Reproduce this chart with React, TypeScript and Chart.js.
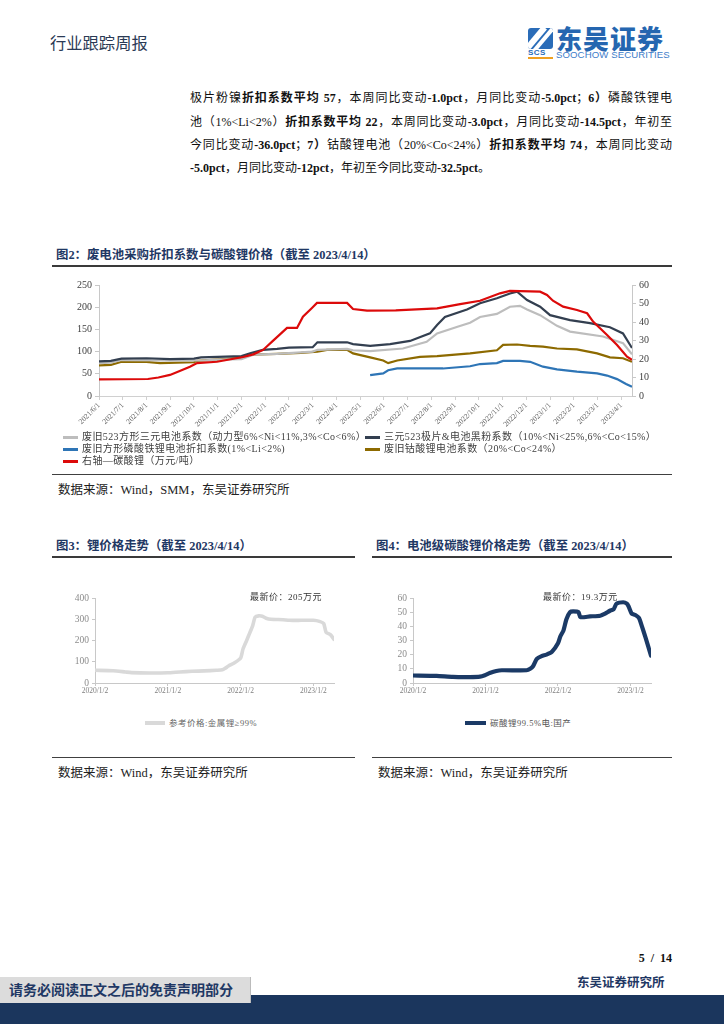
import React, { useEffect, useRef } from 'react';
import { Chart, registerables } from 'chart.js';
Chart.register(...registerables);

const SERIF = '"Liberation Serif", "Noto Sans CJK SC", serif';
const NAVY_TXT = '#1f3864';

// ---------- Figure 2 data (x = months since 2021/6/1) ----------
const fig2XLabels = [
  '2021/6/1', '2021/7/1', '2021/8/1', '2021/9/1', '2021/10/1', '2021/11/1', '2021/12/1',
  '2022/1/1', '2022/2/1', '2022/3/1', '2022/4/1', '2022/5/1', '2022/6/1', '2022/7/1',
  '2022/8/1', '2022/9/1', '2022/10/1', '2022/11/1', '2022/12/1', '2023/1/1', '2023/2/1',
  '2023/3/1', '2023/4/1',
];
const fig2LeftTicks = [0, 50, 100, 150, 200, 250];
const fig2RightTicks = [0, 10, 20, 30, 40, 50, 60];

const grayX = [0, 0.5, 0.95, 3, 4.3, 5, 6, 6.5, 7.5, 9, 9.2, 10.45, 10.7, 11.42, 12.8, 13.8, 14.24, 15.1, 15.63, 16.05, 16.76, 17.31, 17.73, 18.03, 18.58, 19.29, 19.84, 21.23, 22.07, 22.45];
const grayY = [74, 75, 81, 80, 80, 82, 83, 93, 95, 100, 104, 106, 103, 101, 107, 122, 141, 156, 165, 178, 185, 201, 203, 195, 182, 158, 145, 134, 119, 94];

const navyX = [0, 0.5, 0.95, 2, 3, 4, 4.3, 5, 6, 6.4, 6.9, 7.5, 8, 9, 9.2, 10.45, 10.7, 11.42, 12.26, 13.1, 13.94, 14.24, 14.57, 15.5, 16.05, 16.76, 17.31, 17.61, 18.03, 18.58, 19.0, 19.84, 20.68, 21.52, 22.07, 22.45];
const navyY = [78, 79, 84, 85, 83, 84, 87, 88, 90, 97, 104, 106, 109, 110, 121, 121, 117, 113, 117, 124, 141, 160, 178, 195, 209, 220, 231, 235, 216, 201, 182, 171, 164, 155, 141, 108];

const blueX = [11.42, 11.97, 12.18, 12.56, 14.49, 15.63, 16.05, 16.76, 17.02, 17.73, 18.16, 18.7, 19.29, 20.13, 20.98, 21.4, 21.82, 22.2, 22.45];
const blueY = [47, 51, 58, 62, 62, 67, 72, 74, 79, 79, 77, 66, 60, 55, 51, 46, 38, 27, 21];

const oliveX = [0, 0.5, 0.95, 2, 2.57, 4, 4.13, 6, 6.4, 7.5, 8.5, 9.2, 9.6, 10.45, 10.7, 11.42, 11.97, 12.18, 12.56, 13.52, 14.24, 15.63, 16.76, 17.02, 17.61, 18.16, 18.7, 19.29, 20.13, 20.98, 21.52, 22.07, 22.45];
const oliveY = [69, 70, 77, 77, 74, 76, 79, 86, 93, 95, 97, 100, 104, 104, 96, 87, 80, 74, 80, 88, 90, 96, 103, 115, 116, 113, 111, 107, 105, 96, 87, 85, 77];

const redX = [0, 2.06, 2.5, 2.99, 3.4, 3.83, 4.13, 4.97, 6.07, 6.5, 6.91, 7.29, 7.92, 8.34, 8.59, 8.97, 9.18, 10.45, 10.7, 11.29, 12.5, 14.24, 15.21, 16.05, 16.89, 17.31, 18.58, 18.87, 19.12, 19.55, 20.13, 20.56, 20.81, 21.4, 21.82, 22.24, 22.45];
const redY = [9.0, 9.2, 10, 11.4, 13.5, 15.8, 17.8, 18.5, 21.1, 22.5, 24.9, 29.4, 36.8, 36.8, 42.9, 47.6, 50.3, 50.3, 47, 46.1, 46.3, 47.4, 49.7, 51.5, 55.5, 56.8, 56.4, 54.6, 51.5, 48.3, 46.5, 44.7, 40.2, 33, 27.6, 21.2, 19.5];

const fig2Names = [
  '废旧523方形三元电池系数（动力型6%<Ni<11%,3%<Co<6%）',
  '三元523极片&电池黑粉系数（10%<Ni<25%,6%<Co<15%）',
  '废旧方形磷酸铁锂电池折扣系数(1%<Li<2%)',
  '废旧钴酸锂电池系数（20%<Co<24%）',
  '右轴—碳酸锂（万元/吨）',
];
const C_GRAY = '#bdbdbd';
const C_NAVY = '#333f50';
const C_BLUE = '#2e75b6';
const C_OLIVE = '#8d6a00';
const C_RED = '#dc0a0a';

// ---------- Figure 3 data (x = months since 2020/1/2) ----------
const fig3XLabels = ['2020/1/2', '2021/1/2', '2022/1/2', '2023/1/2'];
const fig3XTickPos = [0, 12, 24, 36];
const liX = [0, 3, 5, 6, 9, 12, 14, 16, 18, 20, 21, 21.5, 22, 23, 24, 24.4, 25, 25.5, 26, 26.4, 27, 27.6, 28.2, 29, 31, 32, 34, 36, 37, 37.7, 38.1, 38.8, 39.4];
const liY = [60, 58, 52, 49, 47, 48, 52, 55, 57, 60, 62, 70, 80, 95, 117, 160, 200, 235, 270, 310, 316, 314, 305, 300, 298, 295, 295, 295, 290, 280, 238, 228, 205];

// ---------- Figure 4 data ----------
const lcX = [0, 3.9, 6.6, 9.4, 11.1, 11.9, 12.7, 13.8, 14.7, 18.8, 19.4, 19.9, 20.5, 21.3, 22.1, 23.0, 24.0, 24.4, 24.9, 25.4, 26.0, 26.5, 27.4, 27.7, 29.3, 31.0, 31.8, 32.6, 33.2, 33.7, 34.8, 35.4, 35.7, 36.2, 36.8, 37.4, 37.9, 38.5, 39.4];
const lcY = [5.3, 5.0, 4.3, 4.2, 4.5, 5.5, 7.0, 8.5, 9.0, 9.0, 10.0, 12, 17, 19, 20, 22, 28, 33, 37, 45, 50, 50.5, 50, 46.5, 47, 47.5, 49, 51, 52, 56, 57, 56, 54, 49, 48, 46, 40, 32, 19.3];

const pts = (xs: number[], ys: number[]) => xs.map((x, i) => ({ x, y: ys[i] }));

function ChartCanvas({ left, top, width, height, make }: any) {
  const ref = useRef<HTMLCanvasElement>(null);
  useEffect(() => {
    const chart = new Chart(ref.current as HTMLCanvasElement, make());
    return () => chart.destroy();
  }, []);
  return (
    <canvas
      ref={ref}
      width={width}
      height={height}
      style={{ position: 'absolute', left, top, width, height }}
    />
  );
}

function makeFig2(): any {
  const ds = (label: string, xs: number[], ys: number[], color: string, axis: string, order: number) => ({
    label, data: pts(xs, ys), borderColor: color, backgroundColor: color, yAxisID: axis, order,
    borderWidth: 2.2, pointRadius: 0, tension: 0, fill: false,
  });
  return {
    type: 'line',
    data: {
      datasets: [
        ds(fig2Names[4], redX, redY, C_RED, 'y1', 0),
        ds(fig2Names[1], navyX, navyY, C_NAVY, 'y', 1),
        ds(fig2Names[0], grayX, grayY, C_GRAY, 'y', 2),
        ds(fig2Names[3], oliveX, oliveY, C_OLIVE, 'y', 3),
        ds(fig2Names[2], blueX, blueY, C_BLUE, 'y', 4),
      ],
    },
    options: {
      responsive: false, animation: false, devicePixelRatio: 1,
      layout: { padding: { top: 10, left: 0, right: 0, bottom: 0 } },
      plugins: { legend: { display: false }, tooltip: { enabled: false } },
      scales: {
        x: {
          type: 'linear', min: 0, max: 22.45,
          afterBuildTicks: (s: any) => { s.ticks = fig2XLabels.map((_, i) => ({ value: i })); },
          afterFit: (s: any) => { s.height = 36; },
          ticks: {
            autoSkip: false, maxRotation: 45, minRotation: 45, padding: 1,
            font: { family: SERIF, size: 7.5 }, color: '#595959',
            callback: (_v: any, i: number) => fig2XLabels[i],
          },
          grid: { drawOnChartArea: false, drawTicks: true, tickLength: 4, color: '#d0d0d0' },
          border: { color: '#d0d0d0' },
        },
        y: {
          position: 'left', min: 0, max: 250,
          afterBuildTicks: (s: any) => { s.ticks = fig2LeftTicks.map((v) => ({ value: v })); },
          afterFit: (s: any) => { s.width = 47; },
          ticks: { autoSkip: false, font: { family: SERIF, size: 10 }, color: '#404040', padding: 3 },
          grid: { drawOnChartArea: false, tickLength: 4, color: '#c8c8c8' },
          border: { color: '#c8c8c8' },
        },
        y1: {
          position: 'right', min: 0, max: 60,
          afterBuildTicks: (s: any) => { s.ticks = fig2RightTicks.map((v) => ({ value: v })); },
          afterFit: (s: any) => { s.width = 40; },
          ticks: { autoSkip: false, font: { family: SERIF, size: 10 }, color: '#404040', padding: 3 },
          grid: { drawOnChartArea: false, tickLength: 4, color: '#c8c8c8' },
          border: { color: '#c8c8c8' },
        },
      },
    },
  };
}

function makeSmall(label: string, xs: number[], ys: number[], color: string, width: number, yMax: number, yStep: number, leftW: number): any {
  const yTicks: number[] = [];
  for (let v = 0; v <= yMax; v += yStep) yTicks.push(v);
  return {
    type: 'line',
    data: {
      datasets: [{
        label, data: pts(xs, ys), borderColor: color, borderWidth: width, pointRadius: 0, tension: 0.2, fill: false,
        borderCapStyle: 'round', borderJoinStyle: 'round',
      }],
    },
    options: {
      responsive: false, animation: false, devicePixelRatio: 1,
      layout: { padding: { top: 13, right: 21, left: 0, bottom: 0 } },
      plugins: { legend: { display: false }, tooltip: { enabled: false } },
      scales: {
        x: {
          type: 'linear', min: 0, max: 39.4,
          afterBuildTicks: (s: any) => { s.ticks = fig3XTickPos.map((v) => ({ value: v })); },
          afterFit: (s: any) => { s.height = 17; },
          ticks: {
            autoSkip: false, maxRotation: 0, minRotation: 0, padding: 1,
            font: { family: SERIF, size: 7.5 }, color: '#7f7f7f',
            callback: (_v: any, i: number) => fig3XLabels[i],
          },
          grid: { drawOnChartArea: false, tickLength: 3, color: '#c8c8c8' },
          border: { color: '#c8c8c8' },
        },
        y: {
          min: 0, max: yMax,
          afterBuildTicks: (s: any) => { s.ticks = yTicks.map((v) => ({ value: v })); },
          afterFit: (s: any) => { s.width = leftW; },
          ticks: { autoSkip: false, font: { family: SERIF, size: 9.5 }, color: '#8c8c8c', padding: 3 },
          grid: { drawOnChartArea: false, tickLength: 3, color: '#c8c8c8' },
          border: { color: '#c8c8c8' },
        },
      },
    },
  };
}

const abs = (left: number, top: number, extra: any = {}) => ({ position: 'absolute' as const, left, top, ...extra });

function B({ children }: any) {
  return <b style={{ fontWeight: 700 }}>{children}</b>;
}

function ParaLine({ top, last, children }: any) {
  return (
    <div style={abs(190, top, {
      width: 482, fontFamily: SERIF, fontSize: 12, lineHeight: '16px', color: '#111',
      textAlign: last ? 'left' : 'justify', textAlignLast: last ? 'left' : 'justify', whiteSpace: 'nowrap',
    })}>{children}</div>
  );
}

function Title({ left, top, width, text }: any) {
  return (
    <>
      <div style={abs(left + 4, top, { fontFamily: SERIF, fontSize: 12.4, fontWeight: 700, color: NAVY_TXT, whiteSpace: 'nowrap', lineHeight: '14px' })}>{text}</div>
      <div style={abs(left, top + 17, { width, height: 2, background: '#3a3a3a' })} />
    </>
  );
}

function Source({ left, top, width, text }: any) {
  return (
    <>
      <div style={abs(left, top, { width, height: 1, background: '#404040' })} />
      <div style={abs(left + 6, top + 9, { fontFamily: SERIF, fontSize: 12.5, color: '#222', whiteSpace: 'nowrap', lineHeight: '14px' })}>{text}</div>
    </>
  );
}

function LegendItem({ left, top, color, text, thick = 3, lineW = 15, size = 10, spacing = 0.4, textColor = '#404040' }: any) {
  return (
    <div style={abs(left, top, { display: 'flex', alignItems: 'center', whiteSpace: 'nowrap', height: 12 })}>
      <div style={{ width: lineW, height: thick, background: color, marginRight: 4 }} />
      <span style={{ fontFamily: SERIF, fontSize: size, letterSpacing: spacing, color: textColor, lineHeight: '12px' }}>{text}</span>
    </div>
  );
}

export default function App() {
  return (
    <div style={{ position: 'absolute', left: 0, top: 0, width: 724, height: 1024, overflow: 'hidden', background: '#fff' }}>
      {/* header */}
      <div style={abs(50, 35, { fontFamily: SERIF, fontSize: 16.3, color: '#2b3a55', lineHeight: '18px' })}>行业跟踪周报</div>
      {/* logo */}
      <div style={abs(528, 28, { width: 25, height: 21, background: '#2a6cb8', borderRadius: 3, overflow: 'hidden' })}>
        <div style={{ position: 'absolute', left: 4, top: -4, width: 6, height: 30, background: '#fff', transform: 'rotate(40deg)' }} />
        <div style={{ position: 'absolute', left: 14, top: -4, width: 4, height: 30, background: '#fff', transform: 'rotate(40deg)' }} />
      </div>
      <div style={abs(528, 49, { fontFamily: '"Liberation Sans", sans-serif', fontSize: 8, fontWeight: 700, color: '#2a6cb8', lineHeight: '8px', letterSpacing: 0.5 })}>SCS</div>
      <div style={abs(528, 57, { width: 25, height: 2, background: '#f0a020' })} />
      <div style={abs(556, 24, { fontFamily: '"Noto Sans CJK SC", sans-serif', fontSize: 26, fontWeight: 900, color: '#2566b0', lineHeight: '28px', letterSpacing: 1 })}>东吴证券</div>
      <div style={abs(556, 50, { fontFamily: '"Liberation Sans", sans-serif', fontSize: 9.6, color: '#3d7cc9', lineHeight: '10px', letterSpacing: 0.1 })}>SOOCHOW SECURITIES</div>

      {/* paragraph */}
      <ParaLine top={90}>极片粉镍<B>折扣系数平均 57</B>，本周同比变动<B>-1.0pct</B>，月同比变动<B>-5.0pct</B>；<B>6）</B>磷酸铁锂电</ParaLine>
      <ParaLine top={114}>池（1%&lt;Li&lt;2%）<B>折扣系数平均 22</B>，本周同比变动<B>-3.0pct</B>，月同比变动<B>-14.5pct</B>，年初至</ParaLine>
      <ParaLine top={137}>今同比变动<B>-36.0pct</B>；<B>7）</B>钴酸锂电池（20%&lt;Co&lt;24%）<B>折扣系数平均 74</B>，本周同比变动</ParaLine>
      <ParaLine top={160} last><B>-5.0pct</B>，月同比变动<B>-12pct</B>，年初至今同比变动<B>-32.5pct</B>。</ParaLine>

      {/* Figure 2 */}
      <Title left={52} top={248} width={620} text="图2：废电池采购折扣系数与碳酸锂价格（截至 2023/4/14）" />
      <ChartCanvas left={52} top={275} width={620} height={157} make={makeFig2} />
      <LegendItem left={63} top={431} color={C_GRAY} text={fig2Names[0]} />
      <LegendItem left={365} top={431} color={C_NAVY} text={fig2Names[1]} />
      <LegendItem left={63} top={443} color={C_BLUE} text={fig2Names[2]} />
      <LegendItem left={365} top={443} color={C_OLIVE} text={fig2Names[3]} />
      <LegendItem left={63} top={455} color={C_RED} text={fig2Names[4]} />
      <Source left={52} top={474} width={620} text="数据来源：Wind，SMM，东吴证券研究所" />

      {/* Figure 3 */}
      <Title left={52} top={539} width={303} text="图3：锂价格走势（截至 2023/4/14）" />
      <ChartCanvas left={52} top={585} width={303} height={115}
        make={() => makeSmall('参考价格:金属锂≥99%', liX, liY, '#d9d9d9', 3.6, 400, 100, 43)} />
      <div style={abs(250, 590, { fontFamily: SERIF, fontSize: 9, color: '#333', whiteSpace: 'nowrap', letterSpacing: 0.5 })}>最新价：205万元</div>
      <LegendItem left={145} top={717} color="#d9d9d9" thick={4} lineW={20} size={8.5} spacing={0.5} textColor="#666" text="参考价格:金属锂≥99%" />
      <Source left={52} top={757} width={303} text="数据来源：Wind，东吴证券研究所" />

      {/* Figure 4 */}
      <Title left={372} top={539} width={300} text="图4：电池级碳酸锂价格走势（截至 2023/4/14）" />
      <ChartCanvas left={372} top={585} width={300} height={115}
        make={() => makeSmall('碳酸锂99.5%电:国产', lcX, lcY, '#1b3a66', 4.2, 60, 10, 41)} />
      <div style={abs(543, 590, { fontFamily: SERIF, fontSize: 9, color: '#333', whiteSpace: 'nowrap', letterSpacing: 0.5 })}>最新价：19.3万元</div>
      <LegendItem left={465} top={717} color="#1b3a66" thick={4} lineW={21} size={8.5} spacing={0.5} textColor="#555" text="碳酸锂99.5%电:国产" />
      <Source left={372} top={757} width={300} text="数据来源：Wind，东吴证券研究所" />

      {/* footer */}
      <div style={abs(612, 951, { width: 60, textAlign: 'right', fontFamily: SERIF, fontSize: 12, fontWeight: 700, color: '#111', lineHeight: '14px', whiteSpace: 'pre' })}>5  /  14</div>
      <div style={abs(0, 995, { width: 724, height: 29, background: '#1b365d' })} />
      <div style={abs(0, 977, { width: 250, height: 26, background: '#dcdcdc', borderRight: '1px solid #bbb' })} />
      <div style={abs(9, 983, { fontFamily: SERIF, fontSize: 14, fontWeight: 700, color: NAVY_TXT, whiteSpace: 'nowrap', lineHeight: '16px' })}>请务必阅读正文之后的免责声明部分</div>
      <div style={abs(577, 975, { fontFamily: SERIF, fontSize: 12.5, fontWeight: 700, color: NAVY_TXT, whiteSpace: 'nowrap', lineHeight: '16px' })}>东吴证券研究所</div>
    </div>
  );
}
